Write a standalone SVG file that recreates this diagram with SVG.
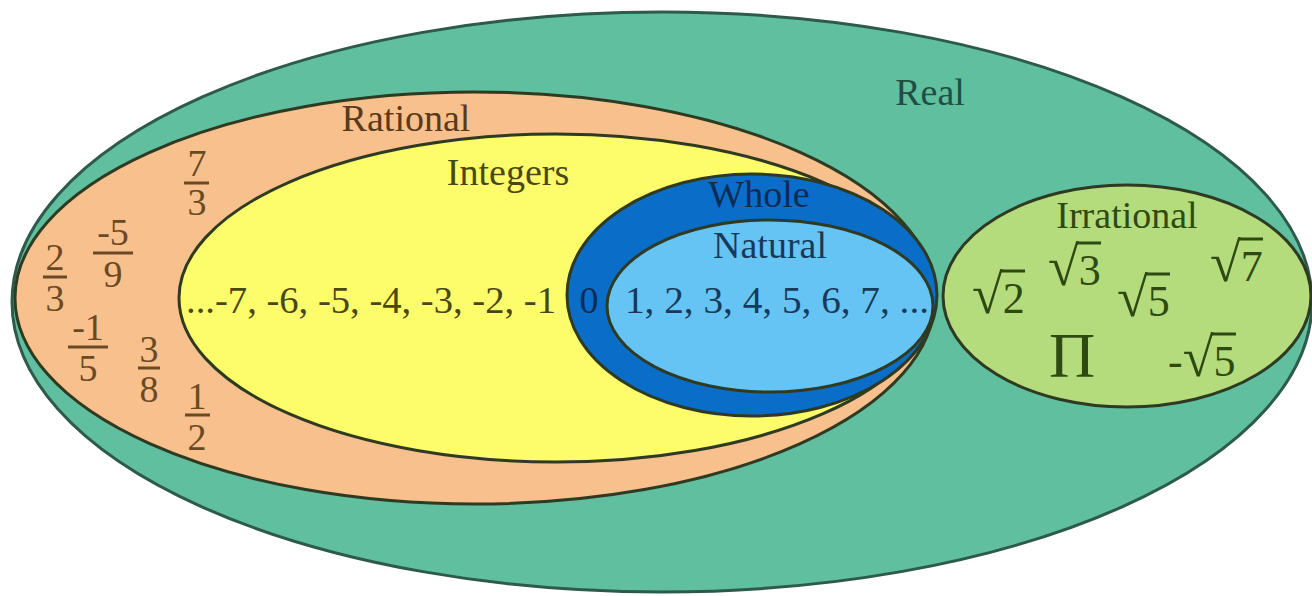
<svg xmlns="http://www.w3.org/2000/svg" width="1312" height="596" viewBox="0 0 1312 596">
<style>
text{font-family:"Liberation Serif","Times New Roman",serif;font-size:38px;text-anchor:middle}
.ol{stroke:#2f3a22;stroke-width:3}
.fr{font-size:40px;fill:#6a4a22}
.bar{stroke:#6a4a22;stroke-width:3}
.ir text{fill:#2e4a12;font-size:44px;text-anchor:start}
.ir .rad{font-size:56px}
.ir .pi{font-size:64px}
.vb{stroke:#2e4a12;stroke-width:3}
</style>
<rect width="1312" height="596" fill="#ffffff"/>
<g id="real">
<ellipse cx="662" cy="302" rx="650" ry="290" fill="#5fbf9f" stroke="#2d5a4a" stroke-width="3"/>
<text x="930" y="105" fill="#1f4f40">Real</text>
</g>
<g id="rational">
<ellipse cx="475" cy="298" rx="460" ry="206" fill="#f8c08c" class="ol"/>
<text x="406" y="131" fill="#5a3a1a">Rational</text>
<g class="fr">
<text x="197" y="176">7</text><text x="197" y="215">3</text>
<text x="55" y="270">2</text><text x="55" y="311">3</text>
<text x="113" y="245">-5</text><text x="113" y="287">9</text>
<text x="88" y="340">-1</text><text x="88" y="381">5</text>
<text x="149" y="362">3</text><text x="149" y="402">8</text>
<text x="197" y="409">1</text><text x="197" y="450">2</text>
</g>
<g class="bar">
<line x1="184" y1="183" x2="209" y2="183"/>
<line x1="43" y1="277" x2="67" y2="277"/>
<line x1="93" y1="253" x2="133" y2="253"/>
<line x1="68" y1="347" x2="108" y2="347"/>
<line x1="138" y1="368" x2="160" y2="368"/>
<line x1="185" y1="415" x2="210" y2="415"/>
</g>
</g>
<g id="integers">
<ellipse cx="556" cy="298" rx="377" ry="164" fill="#fdfc6a" class="ol"/>
<text x="508" y="185" fill="#4a4812">Integers</text>
<text x="371" y="313" fill="#4a4812" textLength="370" lengthAdjust="spacingAndGlyphs">...-7, -6, -5, -4, -3, -2, -1</text>
</g>
<g id="whole">
<ellipse cx="752" cy="295" rx="185" ry="121" fill="#0a6ec8" class="ol"/>
<text x="759" y="207" fill="#0c2c58">Whole</text>
<text x="589" y="313" fill="#0c2c58">0</text>
</g>
<g id="natural">
<ellipse cx="770" cy="306" rx="163" ry="86" fill="#66c4f4" class="ol"/>
<text x="770" y="258" fill="#173a5c">Natural</text>
<text x="777" y="313" fill="#173a5c" textLength="304" lengthAdjust="spacingAndGlyphs">1, 2, 3, 4, 5, 6, 7, ...</text>
</g>
<g id="irrational">
<ellipse cx="1127" cy="296" rx="184" ry="111" fill="#b4dc7c" class="ol"/>
<text x="1127" y="228" fill="#2e4a12">Irrational</text>
<g class="ir">
<text x="972" y="313"><tspan class="rad">√</tspan>2</text>
<text x="1048" y="285"><tspan class="rad">√</tspan>3</text>
<text x="1117" y="316"><tspan class="rad">√</tspan>5</text>
<text x="1210" y="281"><tspan class="rad">√</tspan>7</text>
<text x="1049" y="377" class="pi">Π</text>
<text x="1168" y="376">-<tspan class="rad">√</tspan>5</text>
</g>
<g class="vb">
<line x1="1001" y1="271" x2="1025" y2="271"/>
<line x1="1077" y1="243" x2="1101" y2="243"/>
<line x1="1146" y1="274" x2="1170" y2="274"/>
<line x1="1239" y1="239" x2="1263" y2="239"/>
<line x1="1212" y1="334" x2="1236" y2="334"/>
</g>
</g>
</svg>
